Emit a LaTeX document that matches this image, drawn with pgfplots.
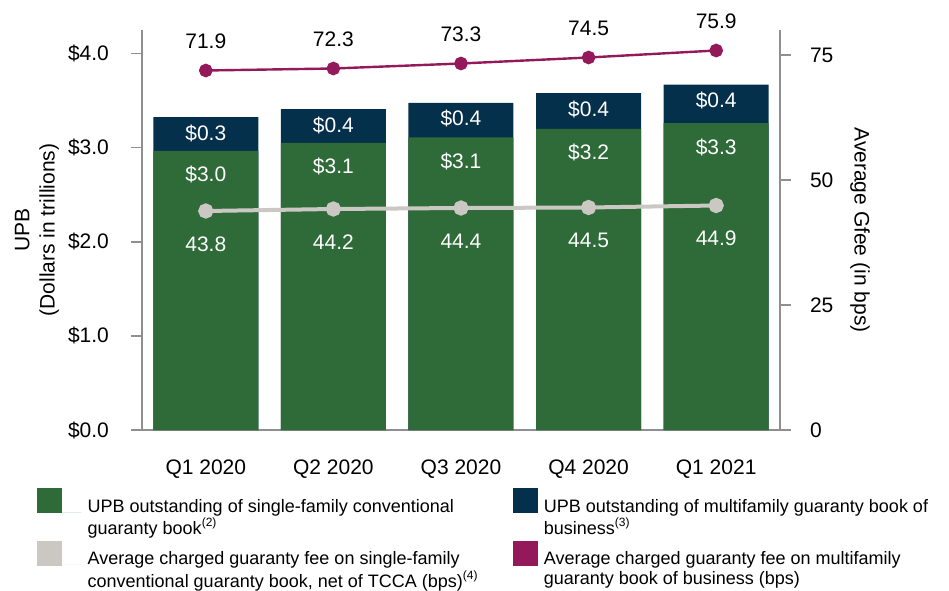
\documentclass[border=0pt]{standalone}
\usepackage{fontspec}
\setmainfont{Liberation Sans}
\usepackage{pgfplots}
\pgfplotsset{compat=1.18}
\usetikzlibrary{calc}
\definecolor{sfgreen}{HTML}{2E6B38}
\definecolor{mfnavy}{HTML}{05304B}
\definecolor{feegray}{HTML}{CBC8C3}
\definecolor{feepurple}{HTML}{94195B}
\definecolor{axgray}{HTML}{8F8F8F}

\newcommand{\tickfont}{\fontsize{10.5}{12.6}\selectfont}
\newcommand{\legfont}{\fontsize{9}{10}\selectfont}
\newcommand{\twoline}[2]{\begin{tabular}[t]{@{}l@{}}#1\\#2\end{tabular}}

\pgfplotsset{
  sqA/.style={legend image code/.code={%
      \fill[##1] (0pt,-0.6pt) rectangle (12.5pt,11.9pt);
      \path (12.5pt,0pt) -- (22.2pt,0pt);}},
  sqB/.style={legend image code/.code={%
      \fill[##1] (0pt,-0.6pt) rectangle (12.5pt,11.9pt);}},
  base/.style={
    width=319pt, height=200pt, scale only axis,
    xmin=-0.5, xmax=4.5,
    clip=false,
    axis line style={axgray, line width=0.75pt, -},
    tick style={axgray, line width=0.75pt},
    tick align=outside,
    major tick length=5.5pt,
    tick label style={font=\tickfont},
    label style={font=\tickfont},
    /pgf/number format/assume math mode=true,
  },
}

% UPB in trillions: single-family (sf), total incl. multifamily (tot)
\pgfplotstableread{
x  sf     tot    sflab   mflab
0  2.965  3.325  {\$3.0} {\$0.3}
1  3.05   3.41   {\$3.1} {\$0.4}
2  3.11   3.475  {\$3.1} {\$0.4}
3  3.20   3.58   {\$3.2} {\$0.4}
4  3.26   3.67   {\$3.3} {\$0.4}
}\upbdata
\pgfplotstableread{
x  fee
0  43.8
1  44.2
2  44.4
3  44.5
4  44.9
}\sffee
\pgfplotstableread{
x  fee
0  71.9
1  72.3
2  73.3
3  74.5
4  75.9
}\mffee

\begin{document}
\begin{tikzpicture}
\begin{axis}[
  base, name=ax,
  ybar, bar shift=0pt, bar width=52.5pt,
  ymin=0, ymax=4.25,
  axis x line*=bottom, axis y line*=left,
  xtick={0,...,4},
  xticklabels={Q1 2020,Q2 2020,Q3 2020,Q4 2020,Q1 2021},
  x tick style={draw=none},
  x tick label style={yshift=-6pt},
  ytick={0,1,2,3,4},
  yticklabels={\$0.0,\$1.0,\$2.0,\$3.0,\$4.0},
  y tick label style={xshift=-7.5pt},
  ylabel={UPB\\(Dollars in trillions)},
  ylabel style={align=center, at={(axis description cs:0,0.5)}, anchor=center, yshift=52.5pt},
  legend columns=2,
  legend style={at={(rel axis cs:0,0)}, anchor=north west,
    xshift=-52.5pt, yshift=-29.1pt, draw=none, fill=none,
    inner sep=0pt, outer sep=0pt, font=\legfont,
    cells={anchor=base west}, row sep=11pt,
    /tikz/every odd column/.append style={column sep=1.15pt},
    /tikz/every even column/.append style={column sep=15pt}},
]
\addlegendimage{sqA, fill=sfgreen, draw=none}
\addlegendentry{\twoline{UPB outstanding of single-family conventional}{guaranty book\textsuperscript{(2)}}}
\addlegendimage{sqB, fill=mfnavy, draw=none}
\addlegendentry{\twoline{UPB outstanding of multifamily guaranty book of}{business\textsuperscript{(3)}}}
\addlegendimage{sqA, fill=feegray, draw=none}
\addlegendentry{\twoline{Average charged guaranty fee on single-family}{conventional guaranty book, net of TCCA (bps)\textsuperscript{(4)}}}
\addlegendimage{sqB, fill=feepurple, draw=none}
\addlegendentry{\twoline{Average charged guaranty fee on multifamily}{guaranty book of business (bps)}}

\addplot[fill=mfnavy, draw=none, forget plot,
  nodes near coords, point meta=explicit symbolic,
  nodes near coords style={font=\tickfont, text=white, anchor=center, yshift=-8pt}]
  table[x=x, y=tot, meta=mflab] {\upbdata};
\addplot[fill=sfgreen, draw=none, forget plot,
  nodes near coords, point meta=explicit symbolic,
  nodes near coords style={font=\tickfont, text=white, anchor=center, yshift=-12pt}]
  table[x=x, y=sf, meta=sflab] {\upbdata};
\end{axis}

\begin{axis}[
  base,
  ymin=0, ymax=80,
  axis x line=none, axis y line*=right,
  ytick={0,25,50,75},
  y tick label style={xshift=6pt},
  ylabel={Average Gfee (in bps)},
  ylabel style={at={(axis description cs:1,0.5)}, anchor=center, rotate=180, yshift=40pt},
]
\addplot[feegray, line width=2pt, mark=*, mark size=2.8pt,
  mark options={fill=feegray, draw=feegray},
  nodes near coords, point meta=explicit symbolic,
  nodes near coords style={font=\tickfont, text=white, anchor=center, yshift=-16.5pt}]
  table[x=x, y=fee, meta=fee] {\sffee};
\addplot[feepurple, line width=1.2pt, mark=*, mark size=2.8pt,
  mark options={fill=feepurple, draw=feepurple},
  nodes near coords, point meta=explicit symbolic,
  nodes near coords style={font=\tickfont, text=black, anchor=center, yshift=14.5pt}]
  table[x=x, y=fee, meta=fee] {\mffee};
\end{axis}

\path ($(ax.south west)+(-71pt,-80pt)$) rectangle ($(ax.south west)+(403.5pt,215pt)$);
\end{tikzpicture}
\end{document}
